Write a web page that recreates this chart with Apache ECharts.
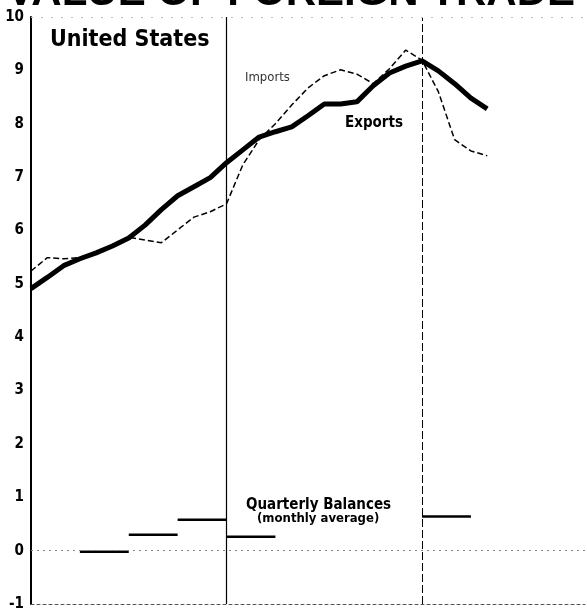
<!DOCTYPE html>
<html>
<head>
<meta charset="utf-8">
<script src="https://cdn.jsdelivr.net/npm/echarts@6/dist/echarts.min.js"></script>
<style>
  html, body { margin: 0; padding: 0; background: #fff; }
  #chart { width: 587px; height: 611px; }
</style>
</head>
<body>
<div id="chart"></div>
<script>
// months counted from start of first year (0..28)
const months = [0, 1, 2, 3, 4, 5, 6, 7, 8, 9, 10, 11, 12, 13, 14, 15, 16, 17, 18, 19, 20, 21, 22, 23, 24, 25, 26, 27, 28];
// billions of dollars, seasonally adjusted annual rates
const exportsVals = [4.91, 5.12, 5.34, 5.47, 5.58, 5.71, 5.86, 6.10, 6.39, 6.65, 6.82, 6.99, 7.27, 7.51, 7.75, 7.85, 7.94, 8.15, 8.37, 8.37, 8.41, 8.71, 8.95, 9.08, 9.18, 8.99, 8.75, 8.48, 8.28];
const importsVals = [5.24, 5.49, 5.47, 5.49, 5.60, 5.72, 5.87, 5.82, 5.77, 6.01, 6.25, 6.35, 6.50, 7.23, 7.70, 8.00, 8.35, 8.67, 8.90, 9.01, 8.93, 8.75, 9.03, 9.38, 9.19, 8.60, 7.70, 7.49, 7.40];
// quarterly balances (monthly average)
const quarterStart = [3, 6, 9, 12, 24];
const quarterEnd = [6, 9, 12, 15, 27];
const balances = [-0.02, 0.30, 0.58, 0.26, 0.64];
const yearBreaks = [12, 24];

const condensed = "'Liberation Sans Narrow', 'DejaVu Sans Condensed', sans-serif";

const exportsData = months.map((m, i) => [m, exportsVals[i]]);
const importsData = months.map((m, i) => [m, importsVals[i]]);
const balanceData = [];
balances.forEach((b, i) => {
  if (i > 0) balanceData.push("-");
  balanceData.push([quarterStart[i], b], [quarterEnd[i], b]);
});

const chart = echarts.init(document.getElementById("chart"));
const option = {
  animation: false,
  backgroundColor: "#fff",
  grid: { left: 31, right: 2, top: 17, bottom: 7, containLabel: false, outerBoundsMode: "none" },
  xAxis: {
    type: "value",
    min: 0,
    max: 34,
    axisLine: { show: true, onZero: false, lineStyle: { color: "#555", width: 1, type: [3, 3] } },
    axisTick: { show: false },
    axisLabel: { show: false },
    splitLine: { show: false },
  },
  yAxis: {
    type: "value",
    min: -1,
    max: 10,
    interval: 1,
    axisLine: { show: true, lineStyle: { color: "#000", width: 2 } },
    axisTick: { show: false },
    splitLine: { show: false },
    axisLabel: {
      color: "#000",
      fontFamily: condensed,
      fontWeight: "bold",
      fontSize: 15,
      margin: 7,
    },
  },
  graphic: [
    // title is cut off at the top edge of the picture
    {
      type: "text", right: 12, top: -28,
      style: { text: "VALUE OF FOREIGN TRADE", font: "bold 42px 'Liberation Sans', sans-serif", fill: "#000" },
    },
    {
      type: "text", left: 50, top: 29,
      style: { text: "United States", font: "bold 23px " + condensed, fill: "#000" },
    },
    {
      type: "text", left: 245, top: 71,
      style: { text: "Imports", font: "13px " + condensed, fill: "#333" },
    },
    {
      type: "text", left: 345, top: 116,
      style: { text: "Exports", font: "bold 15px " + condensed, fill: "#000" },
    },
    {
      type: "text", left: 246, top: 498,
      style: { text: "Quarterly Balances", font: "bold 15px " + condensed, fill: "#000" },
    },
    {
      type: "text", left: 257, top: 512,
      style: { text: "(monthly average)", font: "bold 13px " + condensed, fill: "#000" },
    },
  ],
  series: [
    {
      name: "Exports",
      type: "line",
      data: exportsData,
      showSymbol: false,
      lineStyle: { color: "#000", width: 5 },
      z: 3,
      markLine: {
        silent: true,
        symbol: "none",
        label: { show: false },
        data: [
          { xAxis: yearBreaks[0], lineStyle: { color: "#000", width: 1.2, type: "solid" } },
          { xAxis: yearBreaks[1], lineStyle: { color: "#000", width: 1, type: [8, 3] } },
          { yAxis: 0, lineStyle: { color: "#888", width: 1, type: [2, 4] } },
          { yAxis: 10, lineStyle: { color: "#bbb", width: 1, type: [2, 8] } },
        ],
      },
    },
    {
      name: "Imports",
      type: "line",
      data: importsData,
      showSymbol: false,
      lineStyle: { color: "#000", width: 1.5, type: [6, 3] },
      z: 2,
    },
    {
      name: "Balances",
      type: "line",
      data: balanceData,
      showSymbol: false,
      connectNulls: false,
      lineStyle: { color: "#000", width: 2.5 },
      z: 3,
    },
  ],
};
chart.setOption(option);
</script>
</body>
</html>
